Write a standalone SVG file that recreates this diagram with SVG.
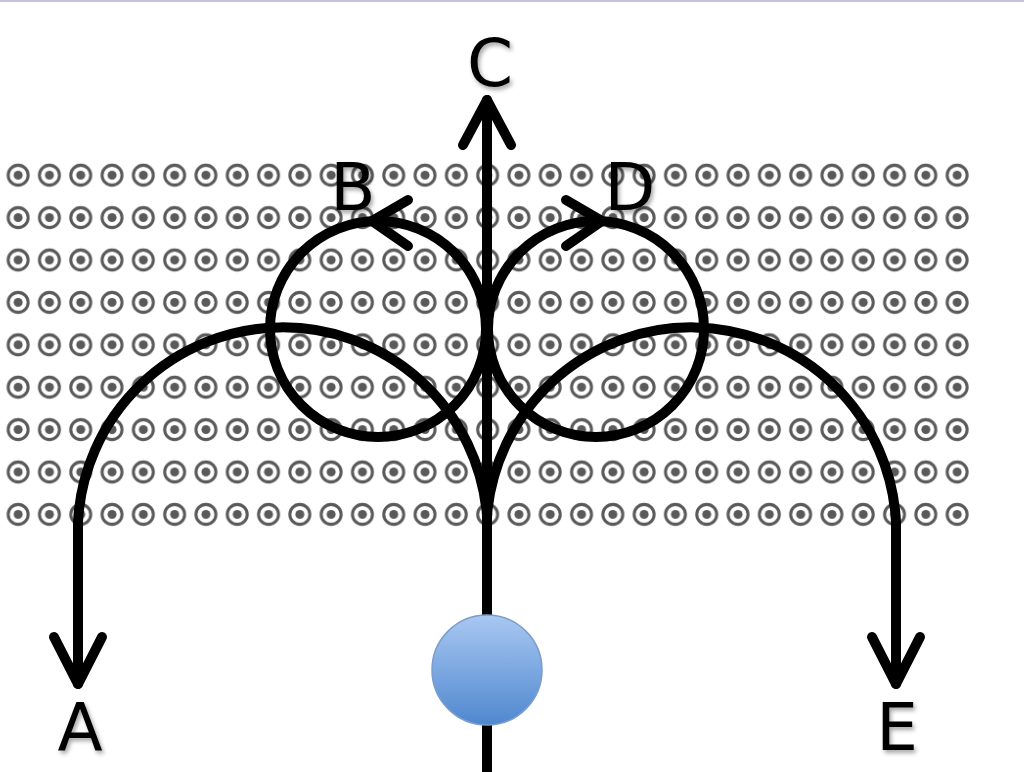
<svg xmlns="http://www.w3.org/2000/svg" xmlns:xlink="http://www.w3.org/1999/xlink" width="1024" height="772" viewBox="0 0 1024 772">
<style>
.ln{fill:none;stroke:#000;stroke-width:10;stroke-linecap:round;stroke-linejoin:round}
.lb{font-family:"DejaVu Sans","Liberation Sans",sans-serif;font-size:66px;fill:#000;text-anchor:middle}
</style>
<defs>
<g id="dot"><circle r="10" fill="#fff" stroke="#5a5a5a" stroke-width="3"/><circle r="4.5" fill="#5a5a5a"/></g>
<pattern id="grid" x="2.5" y="154" width="31.3" height="42.4" patternUnits="userSpaceOnUse"><use xlink:href="#dot" x="15.65" y="21.2"/></pattern>
<linearGradient id="bg" x1="0" y1="0" x2="0" y2="1"><stop offset="0" stop-color="#a9c8f2"/><stop offset="1" stop-color="#4f88cf"/></linearGradient>
<filter id="sh"><feDropShadow dx="2" dy="3" stdDeviation="2" flood-opacity="0.35"/></filter>
</defs>
<rect width="1024" height="772" fill="#fff"/>
<line x1="0" y1="1" x2="1024" y2="1" stroke="#c8c0e0" stroke-width="2"/>
<g id="field"><rect x="2.5" y="154" width="971" height="382" fill="url(#grid)"/></g>
<g id="connectors">
<line class="ln" x1="487" y1="772" x2="487" y2="100"/>
<polyline class="ln" points="463,145 487,100 511,145"/>
<circle class="ln" cx="378" cy="329" r="108"/>
<circle class="ln" cx="596" cy="329" r="108"/>
<polyline class="ln" points="408,200 372,221 408,246"/>
<polyline class="ln" points="566,200 602,221 566,246"/>
<path class="ln" d="M487,515 A205,205 0 0 0 78,522 L78,684"/>
<polyline class="ln" points="54,637 78,684 102,637"/>
<path class="ln" d="M487,515 A205,205 0 0 1 896,522 L896,684"/>
<polyline class="ln" points="872,637 896,684 920,637"/>
</g>
<g id="particle"><circle cx="487" cy="670" r="55" fill="url(#bg)" stroke="#7d9ccc" stroke-width="1.5"/></g>
<g id="labels" filter="url(#sh)">
<text class="lb" x="490" y="86">C</text>
<text class="lb" x="353" y="210">B</text>
<text class="lb" x="630" y="210">D</text>
<text class="lb" x="80" y="750">A</text>
<text class="lb" x="897" y="750">E</text>
</g>
</svg>
